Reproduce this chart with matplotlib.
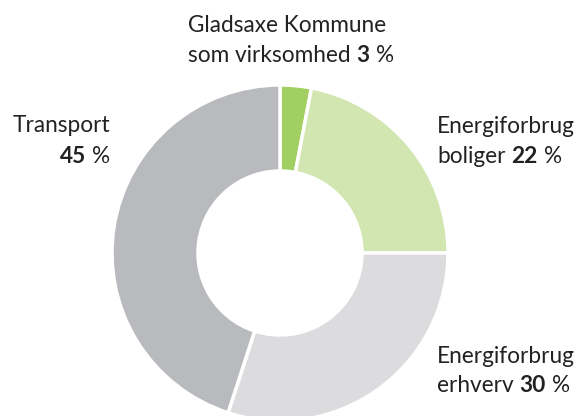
import matplotlib
matplotlib.use("Agg")
import matplotlib.pyplot as plt

# Data
categories = ["Gladsaxe Kommune som virksomhed", "Energiforbrug boliger",
              "Energiforbrug erhverv", "Transport"]
shares = [3, 22, 30, 45]
colors = ["#a2cf62", "#d2e6b1", "#dcdcde", "#b9babd"]

W, H = 579, 416
plt.rcParams["font.family"] = ["Lato", "DejaVu Sans"]
fig = plt.figure(figsize=(W / 100, H / 100), dpi=100)
ax = fig.add_axes([0, 0, 1, 1])
ax.set_xlim(0, W)
ax.set_ylim(0, H)
ax.set_aspect("equal")
ax.axis("off")

# Donut
ax.pie(shares, colors=colors, startangle=90, counterclock=False,
       center=(280, H - 253), radius=168,
       wedgeprops=dict(width=86, edgecolor="white", linewidth=2.5))
ax.set_xlim(0, W)
ax.set_ylim(0, H)

FS = 16.3
TXT = "#222222"


def label_line(x, y, parts, ha="left"):
    # parts: list of (text, bold)
    texts = []
    for s, bold in parts:
        t = ax.text(0, H - y, s, fontsize=FS, color=TXT, va="baseline", ha="left",
                    fontweight="bold" if bold else "normal")
        texts.append(t)
    fig.canvas.draw()
    r = fig.canvas.get_renderer()
    gap = 6
    widths = [t.get_window_extent(r).width for t in texts]
    total = sum(widths) + gap * (len(widths) - 1)
    if ha == "center":
        x0 = x - total / 2
    elif ha == "right":
        x0 = x - total
    else:
        x0 = x
    for t, w in zip(texts, widths):
        t.set_x(x0)
        x0 += w + gap


label_line(287, 32, [("Gladsaxe Kommune", False)], ha="center")
label_line(291, 62, [("som virksomhed", False), ("3", True), ("%", False)], ha="center")
label_line(110, 132, [("Transport", False)], ha="right")
label_line(110, 163, [("45", True), ("%", False)], ha="right")
label_line(437, 133, [("Energiforbrug", False)])
label_line(437, 163, [("boliger", False), ("22", True), ("%", False)])
label_line(437, 363, [("Energiforbrug", False)])
label_line(437, 392, [("erhverv", False), ("30", True), ("%", False)])

fig.savefig("out.png", dpi=100)
